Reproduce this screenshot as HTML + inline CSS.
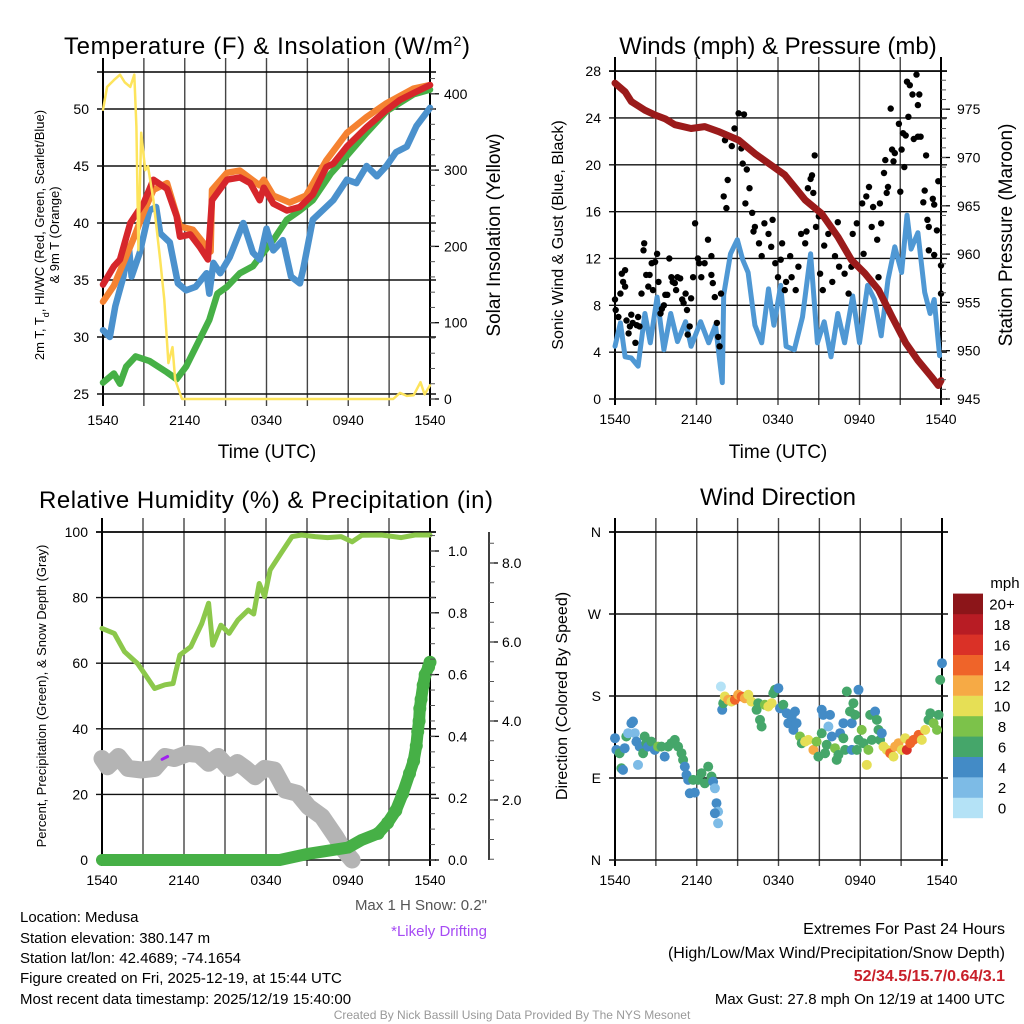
<!DOCTYPE html>
<html><head><meta charset="utf-8"><style>
html,body{margin:0;padding:0;background:#fff;}
svg{display:block;font-family:"Liberation Sans",sans-serif;}
</style></head><body>
<svg id="chart" width="1024" height="1024" viewBox="0 0 1024 1024" xmlns="http://www.w3.org/2000/svg">
<rect x="0" y="0" width="1024" height="1024" fill="#fff"/>
<g id="layer-grid"></g>
<g id="layer-data"></g>
<g id="layer-axes"></g>
<!-- titles -->
<text x="267" y="54" font-size="24" text-anchor="middle" textLength="406">Temperature (F) &amp; Insolation (W/m<tspan baseline-shift="super" font-size="14">2</tspan>)</text>
<text x="778" y="54" font-size="24" text-anchor="middle">Winds (mph) &amp; Pressure (mb)</text>
<text x="266" y="508" font-size="24" text-anchor="middle" textLength="454">Relative Humidity (%) &amp; Precipitation (in)</text>
<text x="778" y="505" font-size="24" text-anchor="middle">Wind Direction</text>
<!-- axis titles -->
<text x="267" y="458" font-size="19" text-anchor="middle">Time (UTC)</text>
<text x="778" y="458" font-size="19" text-anchor="middle">Time (UTC)</text>
<text transform="rotate(-90 44 235)" x="44" y="235" font-size="13" text-anchor="middle">2m T, T<tspan baseline-shift="sub" font-size="9">d</tspan>, HI/WC (Red, Green, Scarlet/Blue)</text>
<text transform="rotate(-90 59 235)" x="59" y="235" font-size="13" text-anchor="middle">&amp; 9m T (Orange)</text>
<text transform="rotate(-90 500 235)" x="500" y="235" font-size="19" text-anchor="middle">Solar Insolation (Yellow)</text>
<text transform="rotate(-90 563 235)" x="563" y="235" font-size="16" text-anchor="middle">Sonic Wind &amp; Gust (Blue, Black)</text>
<text transform="rotate(-90 1012 235)" x="1012" y="235" font-size="19" text-anchor="middle">Station Pressure (Maroon)</text>
<text transform="rotate(-90 46 696)" x="46" y="696" font-size="13" text-anchor="middle">Percent, Precipitation (Green), &amp; Snow Depth (Gray)</text>
<text transform="rotate(-90 567 696)" x="567" y="696" font-size="16" text-anchor="middle">Direction (Colored By Speed)</text>
<!-- annotation -->
<text x="487" y="910" font-size="15" text-anchor="end" fill="#555">Max 1 H Snow: 0.2"</text>
<text x="487" y="936" font-size="15" text-anchor="end" fill="#a64bf4">*Likely Drifting</text>
<g font-size="15">
<text x="20" y="922">Location: Medusa</text>
<text x="20" y="943">Station elevation: 380.147 m</text>
<text x="20" y="963">Station lat/lon: 42.4689; -74.1654</text>
<text x="20" y="983">Figure created on Fri, 2025-12-19, at 15:44 UTC</text>
<text x="20" y="1004">Most recent data timestamp: 2025/12/19 15:40:00</text>
</g>
<g font-size="16" text-anchor="end">
<text x="1005" y="934">Extremes For Past 24 Hours</text>
<text x="1005" y="958">(High/Low/Max Wind/Precipitation/Snow Depth)</text>
<text x="1005" y="981" font-weight="bold" fill="#c8202a">52/34.5/15.7/0.64/3.1</text>
<text x="1005" y="1004" font-size="15">Max Gust: 27.8 mph On 12/19 at 1400 UTC</text>
</g>
<text x="512" y="1019" font-size="12" text-anchor="middle" fill="#999">Created By Nick Bassill Using Data Provided By The NYS Mesonet</text>
</svg>
<script>
// ---------- DATA ----------
const timeTicks = [0, 6, 12, 18, 24];
const timeTickLabels = ["1540", "2140", "0340", "0940", "1540"];
// Panel 1
const tempTicks = [25, 30, 35, 40, 45, 50];
const insolTicks = [0, 100, 200, 300, 400];
const tRed = [0,0.8,1.25,2,3,3.7,4.7,5.4,5.65,6.4,7.1,7.7,8.0,9.1,10.05,10.8,11.5,11.8,12.5,13.5,14.45,15.4,16.4,16.9,17.9,19.35,20.8,21.8,22.8,24];
const vRed = [34.6,36.2,36.8,40,41.8,43.8,43.0,40.6,38.8,39.0,37.9,36.8,42.0,43.8,44.0,43.5,42.0,43.1,41.7,41.1,41.4,42.5,44.9,45.2,46.7,48.4,49.9,50.8,51.4,52.1];
const tOrange = [0,0.8,1.5,2.3,3.0,3.7,4.7,5.65,6.6,7.6,7.9,8.0,9.1,10.05,11.5,11.8,12.5,13.7,14.9,16.4,17.9,19.35,20.8,22.8,24];
const vOrange = [33.1,34.5,36.5,38.8,41,42.9,43.5,39.7,39.4,37.9,37.5,42.9,44.4,44.6,43.3,43.8,42.4,41.8,42.4,45.5,47.9,49.3,50.5,51.8,52.1];
const tBlue = [0,0.5,0.9,1.5,1.9,2.1,2.7,3.4,3.9,4.2,4.9,5.5,6.1,6.8,7.6,7.8,8.1,8.6,9.3,10.3,11.0,11.5,12.0,12.5,13.2,13.8,14.45,14.7,15.4,16.2,16.9,17.9,18.6,19.35,20.1,20.8,21.5,22.3,23,24];
const vBlue = [30.6,30.0,32.7,35.3,37.9,35.3,37.4,41.1,41.4,39.1,38.3,34.7,34.1,34.4,35.6,33.8,36.5,35.6,37.0,40.0,37.4,36.8,39.5,37.6,38.5,35.3,34.7,36.0,40.3,41.2,42.0,43.8,43.5,45.0,44.1,45.0,46.2,46.7,48.5,50.1];
const tGreen = [0,0.8,1.25,1.7,2.4,3.4,4.7,5.4,6.1,7.1,7.8,8.4,9.1,10.05,11,11.5,12.5,13.5,14.45,15.4,16.7,17.9,19.35,20.8,22.8,24];
const vGreen = [26.0,26.8,25.9,27.4,28.3,27.9,26.9,26.3,27.4,29.8,31.5,33.8,34.4,35.6,36.2,37.0,38.5,40.3,41.1,42.0,44.3,45.9,47.9,49.8,51.3,51.7];
const tSolar = [0,0.3,0.8,1.25,1.6,2.0,2.3,2.45,2.6,2.8,3.1,3.3,3.7,4.2,4.5,4.8,5.1,5.3,5.8,21.3,21.8,22.3,22.8,23.3,23.6,24];
const vSolar = [379,409,418,425,415,409,425,357,195,349,300,305,261,182,130,47,68,25,0,0,8,4,5,22,6,18];
// Panel 2
const windTicks = [0,4,8,12,16,20,24,28];
const presTicks = [945,950,955,960,965,970,975];
const tPres = [0,0.74,1.2,2.2,2.95,3.7,4.4,5.6,6.6,7.6,9.1,10.3,11.5,12.5,14,15.2,16.4,17.4,18.4,19.4,20.4,21.4,22.3,23.3,23.8,24];
const vPres = [977.7,976.8,975.8,974.9,974.4,974.0,973.4,973.0,973.2,972.7,971.8,970.4,969.2,968.2,965.6,964.2,961.8,959.4,958.0,956.3,953.5,950.8,949.0,947.3,946.4,946.9];
const tWind = [0,0.4,0.74,1.2,1.7,2.2,2.6,3.1,3.6,4.1,4.6,5.2,5.6,6.3,6.9,7.4,7.9,8.0,8.5,9.0,9.4,9.8,10.3,10.8,11.3,11.7,12.2,12.6,13.2,13.8,14.4,14.9,15.4,15.9,16.4,16.9,17.5,18,18.6,19.1,19.6,20.1,20.6,21.1,21.5,21.8,22.3,22.8,23.2,23.5,23.9];
const vWind = [4.5,6.5,3.6,3.5,2.8,7.3,4.8,8.7,4.2,7.3,4.9,6.6,4.5,6.6,4.8,6.3,1.4,8.9,12.4,13.6,11.9,10.8,6.3,4.8,9.4,6.3,9.7,4.5,4.2,7.0,12.4,4.8,6.6,3.6,7.3,4.8,8.8,4.8,9.7,8.5,5.4,10.2,13.0,10.8,15.7,12.8,14.2,9.1,7.3,8.5,3.7];
const tGust = [0,0.05,0.25,0.4,0.5,0.6,0.74,0.74,0.85,1.0,1.1,1.2,1.3,1.5,1.6,1.7,1.8,1.95,2.1,2.15,2.3,2.45,2.55,2.7,2.8,2.95,3.1,3.2,3.35,3.45,3.6,3.7,3.85,4.0,4.15,4.25,4.4,4.5,4.6,4.8,4.95,5.05,5.2,5.3,5.35,5.5,5.6,5.75,5.9,6.1,6.2,6.35,6.6,6.85,7.1,7.1,7.2,7.35,7.5,7.6,7.7,7.8,8.0,8.1,8.2,8.3,8.6,8.8,9.1,9.5,9.3,9.4,9.6,9.7,9.9,10.1,10.3,10.2,10.6,10.8,11.0,11.3,11.5,11.6,11.8,12.0,12.3,12.2,12.5,12.6,12.9,13.0,13.3,13.5,13.7,14.0,14.1,14.4,14.5,14.7,14.6,14.2,14.8,15.0,15.1,15.3,15.4,15.7,16.0,16.2,16.4,16.5,16.9,17.2,17.4,17.5,17.8,18.2,18.3,18.5,18.7,18.9,19.0,19.3,19.4,19.5,19.6,19.8,19.9,20.0,20.1,20.3,20.4,20.5,20.6,20.9,21.0,21.1,21.2,21.3,21.4,21.5,21.6,21.7,21.9,22.0,22.2,22.3,22.4,22.3,22.5,22.7,22.8,22.9,23.0,23.1,23.1,23.4,23.5,23.5,23.7,23.8,24.0,24.0];
const vGust = [8.5,7.6,7.0,9.0,10.7,10.0,11.0,9.6,6.7,5.6,6.2,7.2,6.5,4.8,6.3,7.0,6.2,9.0,12.7,13.3,10.6,9.6,10.6,11.6,9.3,11.7,12.4,10.0,7.3,7.7,8.0,8.9,8.9,12.0,10.4,10.0,9.9,9.3,10.4,10.3,8.5,8.2,9.0,7.6,5.5,6.2,8.6,10.4,15.0,12.0,11.6,10.4,11.6,13.6,12.2,10.6,9.9,8.7,6.5,5.3,4.5,9.0,17.3,22.1,16.3,18.7,21.6,23.1,24.4,24.3,21.4,20.1,16.7,19.6,18.0,15.9,14.7,14.3,13.3,12.2,15.0,14.1,13.0,15.3,11.6,10.4,13.3,11.9,9.3,10.0,12.2,10.4,9.3,11.3,14.1,13.3,14.3,18.8,19.1,20.8,17.6,18.0,14.7,15.6,10.7,9.3,13.1,14.1,10.0,12.2,15.1,11.3,10.7,9.0,11.3,14.1,15.0,16.7,12.4,17.3,18.1,14.7,16.4,13.6,10.4,16.7,15.0,19.3,20.4,17.6,18.1,24.8,21.3,20.3,21.0,23.5,17.7,21.3,22.7,19.8,22.5,27.1,24.1,26.8,26.0,22.2,27.7,25.1,26.0,22.4,22.4,16.8,17.8,20.8,15.3,14.7,12.7,17.1,12.3,16.6,14.4,18.6,11.4,9.0];
// Panel 3
const rhTicks = [0,20,40,60,80,100];
const precipTicks = [0.0,0.2,0.4,0.6,0.8,1.0];
const snowTicks = [2.0,4.0,6.0,8.0];
const tRH = [0,0.9,1.65,2.6,3.1,3.85,4.6,5.2,5.4,5.7,6.5,7.3,7.8,8.1,8.7,9.3,9.95,10.7,11.1,11.5,11.9,12.3,13.1,13.9,14.6,15.6,16.5,17.5,18.3,19,20.45,21.9,22.9,24];
const vRH = [70.6,69.1,63.5,59.9,56.9,52.3,53.4,53.8,57.4,62.5,65.0,72.1,78.3,65.5,71.6,69.1,73.2,76.2,75.0,84.3,80.3,88.4,93.5,98.6,99.1,98.6,98.3,98.6,97.0,99.0,99.1,98.3,99.1,99.1];
const tSnow = [0,0.4,1.2,1.9,2.9,3.85,4.6,5.3,6.3,7.1,7.8,8.5,9.3,9.9,10.5,11.2,11.9,12.6,13.4,14.3,15.1,16.1,17.1,17.7,18.3];
const vSnow = [3.05,2.84,3.1,2.8,2.76,2.8,3.1,3.05,3.18,3.15,2.93,3.1,2.8,2.95,2.8,2.59,2.8,2.76,2.25,2.17,1.83,1.58,1.07,0.73,0.48];
const tDrift = [4.4,4.8];
const vDrift = [3.03,3.1];
const tPrecip = [0,13,15.1,18,19,20.2,20.9,21.5,22,22.5,22.8,23,23.1,23.2,23.25,23.35,23.5,23.65,23.9,24];
const vPrecip = [0,0,0.02,0.04,0.065,0.086,0.12,0.16,0.215,0.28,0.32,0.37,0.415,0.45,0.49,0.52,0.566,0.6,0.625,0.64];
// Panel 4
const dirTickDeg = [0,90,180,270,360];
const dirTickLabels = ["N","E","S","W","N"];
const speedBinLabels = ["0","2","4","6","8","10","12","14","16","18","20+"];
const speedBinColors = ["#b4e2f6","#7dbbe6","#438bc6","#45a66a","#7cc24a","#e6df55","#f6aa45","#ef6429","#da3127","#b81c24","#8c1519"];
const tDir = [0,0.1,0.34,0.47,0.59,0.71,0.83,0.96,1.2,1.32,1.45,1.57,1.69,1.81,2.06,2.18,2.3,2.43,2.67,2.92,3.16,3.41,3.65,3.9,4.14,4.39,4.63,4.88,5.0,5.12,5.25,5.37,5.49,5.74,5.86,6.1,6.35,6.59,6.84,7.08,7.2,7.33,7.45,7.57,7.33,7.57,7.77,7.87,7.94,8.06,8.31,8.55,8.8,9.04,9.29,9.53,9.78,10.02,10.39,10.51,10.64,10.76,11.0,11.25,11.5,11.62,11.74,11.99,12.11,12.35,12.6,12.72,12.97,13.21,13.09,13.33,13.58,13.7,13.95,14.19,14.56,14.8,14.93,15.17,15.17,15.29,15.42,15.54,15.66,15.78,15.91,16.15,16.27,16.4,16.52,16.76,16.76,16.89,17.01,17.25,17.38,17.38,17.5,17.62,17.75,17.87,17.87,18.11,18.24,18.48,18.6,18.73,18.85,19.09,19.22,19.34,19.46,19.58,19.71,19.95,20.2,20.44,20.56,20.81,21.05,21.3,21.42,21.67,21.91,22.28,22.52,22.77,23.01,23.14,23.38,23.63,23.75,23.87,24.0];
const vDir = [133.7,120.8,117.2,100.7,98.9,122.7,135.5,139.2,150.1,152,139.2,130,104.4,124.5,117.2,135.5,128.2,124.5,130,120.8,124.5,124.5,113.5,124.5,128.2,131.8,124.5,117.2,109.9,102.5,93.4,87.9,73.2,87.9,74,87.9,95.2,84.2,102.5,91.6,86.1,78.7,62.3,53.1,51.3,40.3,190.4,164.8,172.1,179.4,175.8,173.9,175.8,181.3,179.4,177.6,181.3,173.9,164.8,172.1,153.8,146.5,170.3,168.5,172.1,183.1,186.8,188.6,166.6,170.3,161.1,150.1,157.5,163,142.8,150.1,135.5,128.2,130,131.8,120.8,130,113.5,139.2,164.8,159.3,117.2,126.4,146.5,159.3,135.5,122.7,109.9,115.3,139.2,133.7,150.1,120.8,184.9,163,150.1,120.8,172.1,159.3,120.8,186.8,131.8,142.8,128.2,104.4,120.8,159.3,131.8,163,153.8,142.8,131.8,139.2,124.5,120.8,117.2,113.5,124.5,128.2,120.8,133.7,120.8,128.2,131.8,137.3,131.8,142.8,153.8,161.1,150.1,142.8,159.3,197.7,216];
const sDir = [5,5,7,7,5,5,7,3,5,5,3,5,3,5,7,7,7,5,7,5,9,7,5,7,7,7,7,7,7,5,5,5,5,7,5,7,7,7,7,7,5,3,5,3,5,3,1,5,7,11,13,11,15,13,15,13,11,11,7,7,7,7,9,11,11,7,7,5,5,7,5,5,5,5,5,5,9,7,11,11,13,9,7,7,5,5,7,7,3,5,5,9,7,7,5,7,5,7,7,7,5,5,7,7,7,5,7,9,7,11,9,7,7,5,7,7,7,5,11,11,15,11,13,13,11,11,17,15,15,15,11,11,7,7,9,9,7,7,5];

// ---------- SCALES ----------
const P1 = {x0:103, x1:430, top:72, bot:400};
const P2 = {x0:615, x1:941, top:71, bot:399};
const P3 = {x0:102, x1:430, top:532, bot:860};
const P4 = {x0:615, x1:942, top:532, bot:860};
const xs = (P, h) => P.x0 + (P.x1 - P.x0) * h / 24;
const yTemp = v => 109 - (v - 50) * 11.4;
const ySolar = w => 399 - w * 0.763;
const yWind = v => 399 - v * 11.71;
const yPres = p => 399 - (p - 945) * 9.66;
const yRH = r => 860 - r * 3.28;
const yPrecip = p => 860 - p * 309;
const ySnow = s => 879 - s * 39.5;
const yDir = d => 860 - d * 328 / 360;

const NS = 'http://www.w3.org/2000/svg';
const gGrid = document.getElementById('layer-grid');
const gData = document.getElementById('layer-data');
const gAxes = document.getElementById('layer-axes');
function mk(tag, attrs, parent) {
  const e = document.createElementNS(NS, tag);
  for (const k in attrs) e.setAttribute(k, attrs[k]);
  parent.appendChild(e);
  return e;
}
function pts(P, ts, vs, yf) { return ts.map((t, i) => xs(P, t).toFixed(1) + ',' + yf(vs[i]).toFixed(1)).join(' '); }
function txt(x, y, s, size, anchor, parent) { const e = mk('text', {x:x, y:y, 'font-size':size, 'text-anchor':anchor}, parent); e.textContent = s; return e; }

// ---------- GRID / AXES ----------
function panelFrame(P, hVals, yf, name) {
  for (let k = 0; k <= 8; k++) {
    const x = xs(P, k * 3);
    const l = mk('line', {x1:x, y1:P.top - 14, x2:x, y2:P.bot + 6, stroke:(k === 0 || k === 8) ? '#000' : '#444', 'stroke-width':(k === 0 || k === 8) ? 2 : 1.4}, gGrid);
    
    
  }
  hVals.forEach(v => {
    const y = yf(v);
    const l = mk('line', {x1:P.x0 - 6, y1:y, x2:P.x1 + 6, y2:y, stroke:'#111', 'stroke-width':1.4}, gGrid);
    
    
  });
  const t = mk('line', {x1:P.x0 - 6, y1:P.top, x2:P.x1 + 6, y2:P.top, stroke:'#000', 'stroke-width':1.6}, gGrid);
  
  
  timeTicks.forEach((h, i) => {
    const lab = txt(xs(P, h), P.bot + 25, timeTickLabels[i], 14, 'middle', gAxes);
    
    
  });
}
function leftLabels(P, vals, labels, yf, name) {
  vals.forEach((v, i) => {
    const lab = txt(P.x0 - 14, yf(v) + 5, labels[i], 14, 'end', gAxes);
    
    
  });
}
function rightAxis(x, vals, labels, yf, minorVals, name, lx) {
  vals.forEach((v, i) => {
    const y = yf(v);
    const tk = mk('line', {x1:x, y1:y, x2:x + 9, y2:y, stroke:'#000', 'stroke-width':1.3}, gAxes);
    
    
    const lab = txt(lx, y + 5, labels[i], 14, 'start', gAxes);
    
    
  });
  minorVals.forEach(v => {
    const y = yf(v);
    const tk = mk('line', {x1:x, y1:y, x2:x + 5, y2:y, stroke:'#555', 'stroke-width':1}, gAxes);
    
    
  });
}
function range(a, b, s) { const r = []; for (let v = a; v <= b + 1e-9; v += s) r.push(+v.toFixed(3)); return r; }

panelFrame(P1, tempTicks, yTemp, 'p1');
leftLabels(P1, tempTicks, tempTicks.map(String), yTemp, 'p1');
rightAxis(P1.x1, insolTicks, insolTicks.map(String), ySolar, range(0, 420, 20), 'p1-right', 444);

panelFrame(P2, windTicks, yWind, 'p2');
leftLabels(P2, windTicks, windTicks.map(String), yWind, 'p2');
rightAxis(P2.x1, presTicks, presTicks.map(String), yPres, range(945, 978, 1), 'p2-right', 957);

panelFrame(P3, rhTicks, yRH, 'p3');
leftLabels(P3, rhTicks, rhTicks.map(String), yRH, 'p3');
rightAxis(P3.x1, precipTicks, precipTicks.map(v => v.toFixed(1)), yPrecip, range(0, 1.05, 0.05), 'p3-right', 448);
{
  const ax = mk('line', {x1:489, y1:532, x2:489, y2:860, stroke:'#000', 'stroke-width':1.5}, gAxes);
  
  
  rightAxis(489, snowTicks, snowTicks.map(v => v.toFixed(1)), ySnow, range(0.5, 8.5, 0.5), 'snow-axis', 502);
}

panelFrame(P4, dirTickDeg, yDir, 'p4');
leftLabels(P4, dirTickDeg, dirTickLabels, yDir, 'p4');

// ---------- SERIES ----------
function poly(P, ts, vs, yf, color, w, name) {
  const p = mk('polyline', {points:pts(P, ts, vs, yf), fill:'none', stroke:color, 'stroke-width':w, 'stroke-linejoin':'round', 'stroke-linecap':'round'}, gData);
  
  
  return p;
}
// Panel 1
poly(P1, tGreen, vGreen, yTemp, '#46b046', 6.5, 'dewpoint-line');
poly(P1, tBlue, vBlue, yTemp, '#4b91cd', 6.5, 'heat-index-windchill-line');
poly(P1, tOrange, vOrange, yTemp, '#f58231', 6.5, 'temperature-9m-line');
poly(P1, tRed, vRed, yTemp, '#d6262b', 6.5, 'temperature-2m-line');
poly(P1, tSolar, vSolar, ySolar, '#fde45c', 2.5, 'solar-insolation-line');
// Panel 2
poly(P2, tWind, vWind, yWind, '#4f98d4', 5, 'sonic-wind-line');
tGust.forEach((t, i) => {
  const c = mk('circle', {cx:xs(P2, t).toFixed(1), cy:yWind(vGust[i]).toFixed(1), r:3.2, fill:'#000'}, gData);
  
  
});
poly(P2, tPres, vPres, yPres, '#9b1b1b', 7, 'station-pressure-line');
// Panel 3
poly(P3, tRH, vRH, yRH, '#8cc84b', 5, 'relative-humidity-line');
poly(P3, tSnow, vSnow, ySnow, '#b4b4b4', 17, 'snow-depth-line');
poly(P3, tDrift, vDrift, ySnow, '#a020f0', 3, 'drifting-snow-mark');
poly(P3, tPrecip, vPrecip, yPrecip, '#46b046', 12, 'precipitation-line');
tPrecip.forEach((t, i) => {
  if (t < 20) return;
  const c = mk('circle', {cx:xs(P3, t).toFixed(1), cy:yPrecip(vPrecip[i]).toFixed(1), r:6.5, fill:'#46b046'}, gData);
  
  
});
// Panel 4
function speedColor(s) { const k = Math.min(10, Math.max(0, Math.floor(s / 2))); return speedBinColors[k]; }
tDir.forEach((t, i) => {
  const c = mk('circle', {cx:xs(P4, t).toFixed(1), cy:yDir(vDir[i]).toFixed(1), r:5, fill:speedColor(sDir[i])}, gData);
  
  
});
// Legend
{
  const ml = txt(1005, 588, 'mph', 15, 'middle', gAxes);
  
  
  const n = speedBinLabels.length;
  for (let k = 0; k < n; k++) {
    const y = 818 - (k + 1) * 20.4;
    const r = mk('rect', {x:953, y:y.toFixed(1), width:30, height:20.6, fill:speedBinColors[k]}, gAxes);
    
    
    const l = txt(1002, y + 16, speedBinLabels[k], 15, 'middle', gAxes);
    
    
  }
}
</script>
</body></html>
